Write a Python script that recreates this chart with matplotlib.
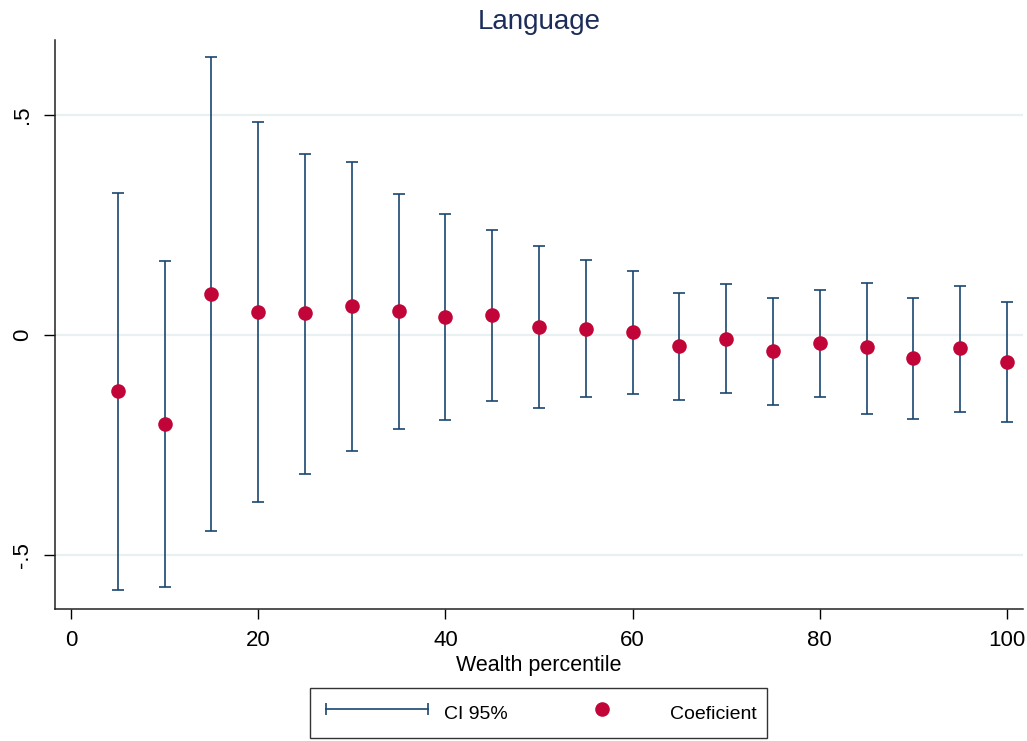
''' Quantile coefficients for Language across the wealth distribution '''
import matplotlib
matplotlib.use('Agg')
import matplotlib.pyplot as plt
from matplotlib.legend_handler import HandlerLine2D
from matplotlib.lines import Line2D
import numpy as np

plt.rcParams['font.family'] = ['Liberation Sans', 'DejaVu Sans']

# wealth percentile and estimates with 95% bounds
percentile = [5, 10, 15, 20, 25, 30, 35, 40, 45, 50,
              55, 60, 65, 70, 75, 80, 85, 90, 95, 100]
coef = [-0.128, -0.202, 0.094, 0.053, 0.049, 0.065, 0.055, 0.042, 0.045, 0.018,
        0.014, 0.006, -0.025, -0.008, -0.036, -0.019, -0.028, -0.053, -0.030, -0.062]
ci_hi = [0.323, 0.168, 0.632, 0.484, 0.411, 0.393, 0.320, 0.275, 0.238, 0.202,
         0.170, 0.146, 0.095, 0.116, 0.085, 0.102, 0.118, 0.084, 0.111, 0.076]
ci_lo = [-0.579, -0.572, -0.445, -0.380, -0.315, -0.263, -0.213, -0.193, -0.150, -0.167,
         -0.141, -0.133, -0.148, -0.132, -0.159, -0.142, -0.180, -0.192, -0.175, -0.198]

xticks = [0, 20, 40, 60, 80, 100]
yticks = [-0.5, 0, 0.5]
ytick_labels = ['-.5', '0', '.5']

NAVY = '#1a476f'
RED = '#c20538'
GRID = '#e8f0f2'

fig = plt.figure(figsize=(10.27, 7.41), dpi=100)
ax = fig.add_axes([55/1027, 1 - 609/741, 968/1027, 569/741])

x = np.array(percentile)
c = np.array(coef)
yerr = [c - np.array(ci_lo), np.array(ci_hi) - c]

for yv in yticks:
    ax.axhline(yv, color=GRID, lw=1.6, zorder=0)

ax.errorbar(x, c, yerr=yerr, fmt='none', ecolor=NAVY, elinewidth=1.2,
            capsize=4.3, capthick=1.2, zorder=2)
ax.plot(x, c, 'o', color=RED, markersize=10.5, markeredgewidth=0, zorder=3)

ax.set_xlim(-1.71, 101.71)
ax.set_ylim(-0.6227, 0.6705)
ax.set_xticks(xticks)
ax.set_yticks(yticks)
ax.set_yticklabels(ytick_labels, rotation=90, va='center')
ax.tick_params(axis='x', length=7.2, width=1.0, pad=8, labelsize=16)
ax.tick_params(axis='y', length=8, width=1.0, pad=8, labelsize=16)

for side in ['top', 'right']:
    ax.spines[side].set_visible(False)
for side in ['left', 'bottom']:
    ax.spines[side].set_linewidth(1.1)
    ax.spines[side].set_color('#222222')

ax.set_xlabel('Wealth percentile', fontsize=15.5, labelpad=3)
ax.set_title('Language', fontsize=20, color='#1c2d5a', pad=8)

# legend: capped line for the interval, single dot for the estimate
ci_handle = Line2D([], [], color=NAVY, lw=1.2, marker='|', markersize=8,
                   markeredgewidth=1.2)
dot_handle = Line2D([], [], color=RED, lw=0, marker='o', markersize=10.5,
                    markeredgewidth=0)
leg = fig.legend([ci_handle, dot_handle], ['CI 95%', 'Coeficient'],
                 loc='upper center', bbox_to_anchor=(538.5/1027, 1 - 688/741),
                 ncol=2, fontsize=14, handlelength=5.8,
                 handleheight=1.9, handletextpad=0.57, columnspacing=1.93,
                 borderpad=0.55, borderaxespad=0, fancybox=False, frameon=True,
                 handler_map={ci_handle: HandlerLine2D(numpoints=2, ypad=-0.45),
                              dot_handle: HandlerLine2D(numpoints=1, ypad=-0.45)})
frame = leg.get_frame()
frame.set_edgecolor('black')
frame.set_linewidth(1.0)

fig.savefig('out.png', dpi=100)
